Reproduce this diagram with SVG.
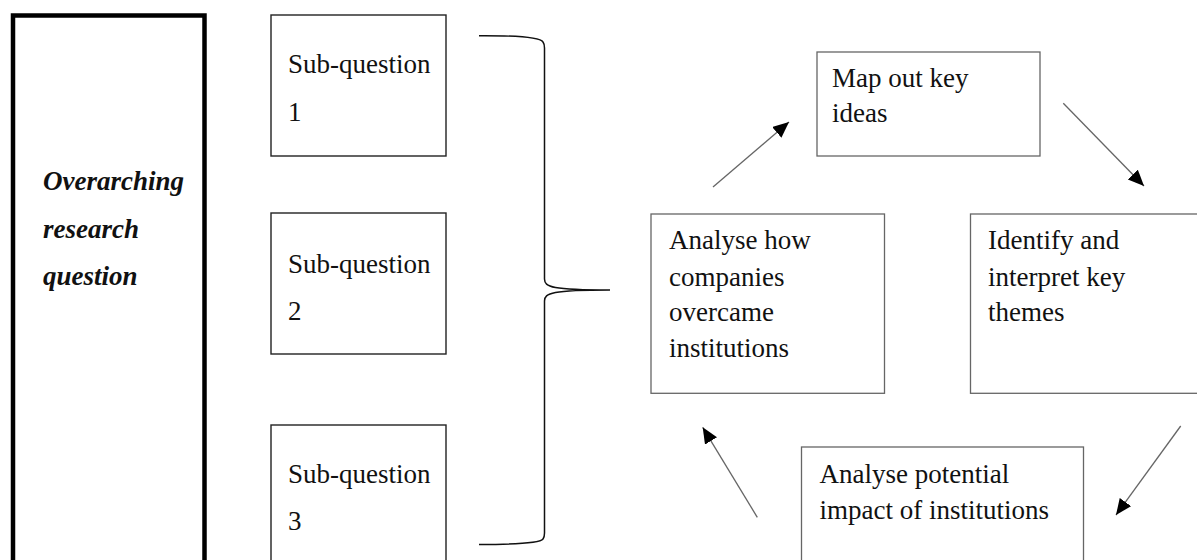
<svg xmlns="http://www.w3.org/2000/svg" width="1197" height="560" viewBox="0 0 1197 560">
  <style>
    .t { font-family: "Liberation Serif", "Times New Roman", serif; font-size: 27px; fill: #111; }
    .bi { font-weight: bold; font-style: italic; }
    .box { fill: #fff; stroke: #666; stroke-width: 1.3; }
    .sub { fill: #fff; stroke: #222; stroke-width: 1.4; }
    .main { fill: #fff; stroke: #000; stroke-width: 4.5; }
    .arrow { fill: none; stroke: #666; stroke-width: 1.3; marker-end: url(#ah); }
    .brace { fill: none; stroke: #111; stroke-width: 1.5; }
  </style>
  <defs>
    <marker id="ah" markerUnits="userSpaceOnUse" markerWidth="18" markerHeight="16" refX="16" refY="7" orient="auto">
      <path d="M0,0 L16,7 L0,14 z" fill="#000"/>
    </marker>
  </defs>
  <rect width="1197" height="560" fill="#fff"/>

  <g id="overarching">
    <rect class="main" x="13" y="15.5" width="191.5" height="560"/>
    <text class="t bi" x="43" y="190">Overarching</text>
    <text class="t bi" x="43" y="237.5">research</text>
    <text class="t bi" x="43" y="285">question</text>
  </g>

  <g id="sub1">
    <rect class="sub" x="271" y="15" width="175" height="141"/>
    <text class="t" x="288" y="73">Sub-question</text>
    <text class="t" x="288" y="120.5">1</text>
  </g>
  <g id="sub2">
    <rect class="sub" x="271" y="213" width="175" height="141"/>
    <text class="t" x="288" y="273">Sub-question</text>
    <text class="t" x="288" y="319.5">2</text>
  </g>
  <g id="sub3">
    <rect class="sub" x="271" y="425" width="175" height="160"/>
    <text class="t" x="288" y="483">Sub-question</text>
    <text class="t" x="288" y="529.5">3</text>
  </g>

  <g id="map">
    <rect class="box" x="817" y="52" width="223" height="104"/>
    <text class="t" x="832" y="86.7">Map out key</text>
    <text class="t" x="832" y="121.7">ideas</text>
  </g>
  <g id="analyse-how">
    <rect class="box" x="651" y="214" width="233.5" height="179.3"/>
    <text class="t" x="669" y="249.3">Analyse how</text>
    <text class="t" x="669" y="285.5">companies</text>
    <text class="t" x="669" y="321.3">overcame</text>
    <text class="t" x="669" y="357">institutions</text>
  </g>
  <g id="identify">
    <rect class="box" x="970.5" y="214" width="240" height="179.3"/>
    <text class="t" x="988" y="249.3">Identify and</text>
    <text class="t" x="988" y="285.5">interpret key</text>
    <text class="t" x="988" y="321.3">themes</text>
  </g>
  <g id="analyse-potential">
    <rect class="box" x="801.5" y="447" width="282" height="130"/>
    <text class="t" x="819.5" y="483.3">Analyse potential</text>
    <text class="t" x="819.5" y="519">impact of institutions</text>
  </g>

  <g id="connectors">
    <path class="brace" d="M479,35.7 C515,35.5 540,37 543,42 Q544.5,44 544.5,48 L544.5,279 C544.5,287 552,290 610,290 C552,290 544.5,293 544.5,301 L544.5,533 Q544.5,537 543,539 C540,543 515,544.5 479,544.6"/>
    <line class="arrow" x1="713" y1="187" x2="789" y2="122"/>
    <line class="arrow" x1="1063.3" y1="103.3" x2="1144" y2="186"/>
    <line class="arrow" x1="1180.7" y1="426" x2="1116" y2="515"/>
    <line class="arrow" x1="757.3" y1="517.3" x2="702.7" y2="427.3"/>
  </g>
</svg>
